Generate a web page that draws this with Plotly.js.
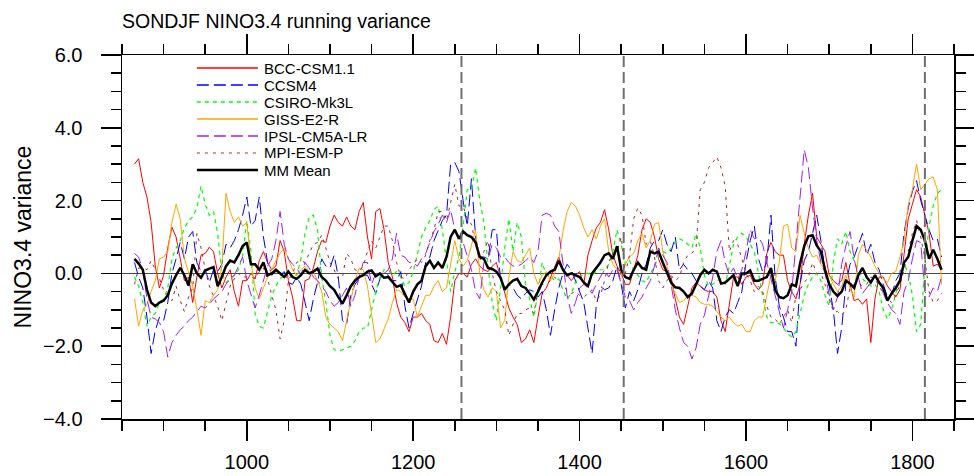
<!DOCTYPE html>
<html>
<head>
<meta charset="utf-8">
<script src="https://cdn.plot.ly/plotly-3.0.1.min.js"></script>
<style>html,body{margin:0;padding:0;background:#fff;}#chart{width:974px;height:476px;}</style>
</head>
<body>
<div id="chart"></div>
<script>
// Years of the running-variance series (865 ... 1835, every 5 years)
const startYear = 865, stepYear = 5, nYears = 195;
const years = [];
for (let i = 0; i < nYears; i++) years.push(startYear + stepYear * i);

const modelNames = ["BCC-CSM1.1", "CCSM4", "CSIRO-Mk3L", "GISS-E2-R", "IPSL-CM5A-LR", "MPI-ESM-P", "MM Mean"];

const bcc = [
 3.0, 3.15, 2.5, 2.1, 1.4, 0.2, -0.4, -0.05, 0.7, 1.27, 1.0, 0.4, -0.2, -0.1, -0.8, -0.1, 0.5, 0.55, 0.72, 0.6, 0.0, -0.4, -0.1, 0.1, -0.5, -0.9, -0.2, -0.2,
 0.0, -0.15, 0.35, 0.6, 0.3, 0.1, 0.2, 0.9, 0.6, -0.2, -0.65, -1.3, -1.3, -0.2, -0.15, 0.15, 0.6, 0.9, 0.85, 1.3, 1.6, 1.4, 1.3, 1.55, 1.3, 1.2, 1.7, 1.95,
 1.0, 0.4, 1.7, 1.78, 1.2, 0.3, -0.1, -0.8, -1.2, -1.35, -1.6, -1.2, -1.2, -1.1, -1.3, -1.4, -1.85, -1.9, -1.65, -1.95, -1.2, -0.2, 0.0, 0.0, -0.1, 0.25, 0.4, 0.2, 0.1,
 0.05, 0.2, 0.3, -0.1, -0.5, -0.95, -1.2, -1.4, -1.9, -1.8, -1.55, -1.9, -1.2, -0.55, -0.4, -0.1, 0.2, 0.45, 0.1, -0.05, -0.2, -0.05, 0.05, -0.3, 0.5, 0.9, 1.25, 1.4, 1.75,
 1.2, 0.5, 0.2, 0.0, -0.3, -0.3, 0.1, 0.5, 1.2, 1.5, 1.4, 1.0, 0.4, 0.1, 0.05, -0.1, -0.7, -1.2, -1.4, -0.9, -0.4, -0.25, -0.35, -0.45, -0.5, -0.5, -0.65, -1.3, -1.6,
 -0.9, -0.1, -0.1, -0.3, -0.1, -0.05, -0.3, -0.45, -0.3, 0.55, 0.85, 0.6, 0.5, 0.5, -0.2, -0.5, -0.7, -0.3, 0.8, 1.6, 2.2, 1.0, 0.8, 0.6, -0.05, -0.2, -0.3, -0.2,
 0.3, -0.3, -0.75, -0.7, -0.85, -0.7, -1.9, -0.7, -0.1, -0.1, -0.35, -0.5, -0.65, -0.45, 0.6, 1.5, 1.9, 2.3, 2.1, 1.6, 1.1, 0.2, 0.25, 0.1
];
const ccsm4 = [
 0.3, -0.1, -0.4, -1.2, -2.2, -1.57, -1.2, -1.3, -0.8, 0.0, 0.4, 0.85, 0.4, 1.0, 1.15, 0.3, 0.05, 0.1, -0.25, 0.1, 0.05, 0.25, 0.8, 0.7, 0.9, 1.2, 1.6, 2.1,
 1.3, 1.45, 2.1, 1.0, 0.3, -0.05, 0.05, -0.05, 0.05, -0.25, -0.3, -0.1, -0.3, -0.8, -1.3, -0.7, -0.25, 0.4, 0.2, 0.15, 0.5, -0.1, -1.3, -1.4, -0.6, -0.3, -0.15, -0.05,
 -0.05, -0.3, -0.55, -0.15, 0.0, -0.05, -0.2, -0.2, 0.05, -0.9, -1.5, -1.1, -0.7, -0.35, 0.3, 0.45, 0.9, 1.2, 1.45, 1.6, 3.0, 3.05, 2.8, 2.0, 1.3, 2.6, 1.0, 0.45, 0.45,
 0.4, 1.2, 1.2, -0.2, -0.4, -0.3, -0.4, -0.6, -0.7, -0.55, -0.45, -0.5, -0.65, -0.5, -1.0, -1.7, -1.0, -0.4, 0.0, 0.25, 0.1, -0.2, -0.45, -0.8, -1.5, -2.2, -0.9, -0.35, -0.45,
 -0.4, -0.2, 0.2, -0.3, -0.95, -0.5, -0.75, -0.45, 0.0, 0.25, 0.7, 0.9, 0.9, 1.2, 0.8, 0.6, 1.0, 0.1, 0.25, 0.1, 0.0, -0.2, -0.35, -0.45, -0.2, -0.4, -1.3, -1.6, -1.2,
 -1.0, -1.1, -0.8, -0.5, 0.3, 0.9, 1.3, 0.4, 0.05, 0.3, 1.6, -0.1, -0.9, -1.2, -1.6, -1.6, -2.0, -0.3, 0.35, 0.6, 1.1, 1.6, 0.9, 0.1, -0.35, -1.0, -2.2, -1.5,
 -0.3, 0.25, 0.45, 0.8, 1.1, 0.5, 0.8, 0.3, 0.1, -0.3, -0.65, -0.6, -0.2, 0.0, 1.1, 1.8, 2.25, 2.55, 2.0, 1.6, 1.2, 0.9, 0.95, 0.45
];
const csiro = [
 -0.1, -0.35, -0.8, -1.45, -1.2, -1.1, -0.8, -0.7, -0.4, 0.4, 0.7, 0.9, 1.25, 1.45, 1.55, 1.8, 2.4, 1.9, 1.6, 1.7, 1.1, 0.0, -0.25, -0.15, -0.05, 0.1, 0.5, 1.45,
 0.6, -1.1, -1.45, -1.5, -1.05, -0.6, -0.35, -0.15, -0.05, 0.1, -0.1, -0.05, 0.4, 1.1, 1.55, 1.6, 1.2, -0.1, -0.8, -1.7, -2.1, -2.12, -2.1, -2.05, -2.0, -1.85, -1.6, -1.5,
 -1.5, -1.0, -0.5, -0.1, 0.1, 0.1, -0.05, 0.05, -0.1, -0.35, -0.25, 0.05, 0.5, 1.0, 1.25, 1.45, 1.75, 1.85, 1.2, 0.3, -0.5, 0.05, 0.45, 1.3, 2.3, 2.3, 2.9, 2.0, 1.4,
 0.2, -0.8, -1.3, -0.4, 0.7, 1.5, 0.6, 1.4, 1.0, -0.3, -0.7, -1.2, -0.5, 0.3, -0.05, -0.05, -0.2, -0.15, -0.45, -0.7, -0.55, -0.25, -0.1, 0.0, 0.0, -0.05, 0.05, 0.1, 0.1,
 0.25, 0.6, 1.2, 0.8, 0.25, 0.35, 0.1, -0.05, -0.2, -0.25, 0.0, 0.2, 0.45, 0.6, 0.55, 0.7, 0.85, 0.95, 0.9, 0.8, 0.7, 1.1, 0.7, -0.05, -0.35, -0.3, -0.2, -0.15, -0.3,
 0.2, 0.8, 1.0, 1.1, 1.0, 0.8, 0.6, 0.0, -0.6, -1.2, -1.35, -1.35, -1.38, -1.5, -1.65, -1.75, -1.6, -1.1, -0.6, -0.3, -0.1, 0.0, -0.2, -0.6, -0.9, 0.3, 0.95, 0.8,
 1.15, 0.6, 0.35, 0.05, -0.15, -0.25, -0.35, -0.3, -0.5, -1.0, -1.25, -1.0, -0.55, -0.1, 0.25, 0.0, -0.6, -1.6, -1.4, 0.2, 1.3, 1.85, 2.2, 2.3
];
const giss = [
 -0.7, -1.45, -1.0, -0.85, -0.5, -0.2, 0.4, 0.45, 0.6, 1.4, 1.9, 1.5, 0.4, 0.0, -0.35, -1.0, -1.7, -0.75, -0.8, -0.6, -0.45, 0.2, 2.2, 1.7, 1.4, 1.55, 1.3, 1.4,
 0.3, -0.4, -0.7, -0.4, -0.1, 0.1, 0.35, 0.55, 0.7, 0.4, 0.1, -0.05, 0.1, 0.2, 0.05, 0.05, -0.2, -0.5, -1.2, -1.4, -1.5, -1.6, -1.85, -1.3, -0.75, -0.2, 0.15, 0.1,
 -0.35, -1.1, -1.9, -1.8, -1.5, -1.25, -0.8, -0.45, -0.5, -0.65, -0.7, -0.7, -1.2, -0.9, -0.6, -0.6, -0.35, -0.2, -0.5, -0.4, 0.2, 0.9, 0.4, 0.2, 0.35, 0.8, 1.2, 0.0, -0.45,
 -0.65, -0.4, -0.5, -1.5, -1.3, -0.1, 0.6, 0.35, 0.3, 0.5, 0.7, 0.0, -0.3, -0.05, 0.05, -0.2, 0.0, 0.4, 1.15, 1.7, 1.95, 1.85, 1.6, 1.25, 1.0, 1.2, 0.95, 1.3, 1.5,
 0.6, 0.25, 0.1, -0.05, 0.25, 0.45, 0.55, 0.9, 1.1, 0.7, 0.9, 1.35, 1.4, 0.6, 0.2, -0.3, -0.55, -0.8, -0.75, -0.6, -0.6, -0.65, -0.8, -0.85, -0.85, -0.9, -1.05, -1.2, -1.3,
 -1.2, -1.35, -1.45, -1.4, -1.6, -1.6, -1.3, -1.2, -1.2, -0.6, -0.05, -0.2, 0.3, 1.3, 1.35, 0.7, 0.6, 1.6, 1.1, 0.7, 0.45, 0.5, 0.25, 0.1, -0.05, -0.3, -0.5, -0.35,
 -0.05, -0.4, -0.65, 0.5, 0.8, 0.65, 0.45, 0.2, 0.0, -0.15, -0.25, 0.0, 0.05, 0.45, 0.9, 1.9, 2.3, 3.0, 2.3, 2.45, 2.6, 2.65, 2.3, -0.3
];
const ipsl = [
 0.55, 0.45, 0.1, -0.7, -1.2, -1.25, -1.35, -1.6, -2.3, -1.9, -1.7, -1.55, -1.45, -1.3, -1.2, -1.05, -0.9, -0.95, -0.85, -0.7, -0.6, -0.5, -0.3, -0.15, -0.05, 0.2, 0.45, -0.2,
 -0.6, -0.95, -0.6, -0.2, 0.2, 0.4, 0.9, 1.7, 0.8, 0.4, 0.25, 0.15, -0.05, 0.3, 0.15, -0.1, -0.2, -0.35, -0.5, -0.75, -0.9, -0.8, -0.6, -0.4, -0.9, -0.6, -0.1, 0.3,
 0.3, -0.3, 0.0, 0.0, 0.0, 0.1, 0.4, 1.1, 0.5, 0.45, 0.3, 0.3, 0.2, 0.4, 0.55, 0.85, 1.15, 1.35, 1.6, 1.4, 1.75, 1.2, 1.0, 0.85, 0.5, 0.1, -0.5, -0.7, 0.3,
 0.4, 0.8, 0.7, 0.45, 0.45, 0.3, 0.2, 0.2, 0.25, 0.35, 0.45, 0.3, 0.6, 1.6, 1.65, 1.6, 1.3, 1.15, 0.3, -0.6, -1.1, -0.8, -0.4, -0.3, -0.4, -0.55, -0.3, -0.1, 0.1,
 -0.1, 0.1, 0.1, -0.3, -0.65, -0.75, -1.0, -0.8, -0.65, -0.4, -0.2, 0.2, 0.7, 0.5, 0.3, -0.3, -1.0, -1.5, -1.9, -2.0, -2.35, -2.05, -1.4, -1.15, -0.6, -0.1, 0.6, 0.9, 0.3,
 -0.05, 0.15, -0.15, 0.1, 0.6, 1.2, 0.95, 1.0, 0.8, 0.3, -0.15, -0.6, -1.1, -1.5, -1.0, -0.5, 0.8, 2.0, 3.4, 2.9, 1.8, 0.9, 0.3, 0.0, -0.6, -1.0, -0.65, 0.25,
 0.75, 1.15, 0.4, -0.1, -0.55, -0.4, -0.25, -0.1, -0.2, -0.55, -0.8, -1.0, -1.1, -1.4, -0.5, -0.2, 0.4, 0.9, 0.85, -0.5, -0.65, -0.4, -0.5, -0.1
];
const mpi = [
 -0.3, 0.15, 0.15, 0.1, 0.35, 0.1, -0.15, -0.45, -0.6, -0.75, -0.35, -0.75, -1.05, -0.65, -0.4, 1.1, 0.7, 0.1, -0.35, -0.65, -0.9, -1.3, -0.8, -0.35, -0.15, 0.0, -0.1, -0.1,
 -0.1, -0.15, 0.05, 0.15, -0.15, -0.6, -1.0, -1.8, -1.3, -0.2, 0.0, 0.3, 0.35, 0.3, 0.55, 0.8, 0.85, 1.05, 0.7, 0.3, 0.1, -0.15, -0.1, 0.55, 0.4, 0.1, 0.05, 0.2,
 0.6, 0.9, 0.7, 1.0, 1.3, 1.3, 0.9, 0.3, -0.1, -0.15, 0.1, 0.25, 0.4, 0.3, 0.5, 0.9, 1.2, 1.7, 1.7, 1.45, 2.0, 2.45, 1.85, 1.85, 1.5, 1.35, 0.8, 0.35, 0.6,
 0.9, 0.0, -0.5, -0.75, -1.0, -1.7, -1.4, -1.1, -1.1, -1.0, -0.95, -1.1, -0.45, -0.3, -0.3, -0.2, -0.1, -0.25, -0.35, -0.45, -0.55, -0.5, -0.6, -0.65, -0.55, -0.45, -0.75, -0.6, -0.2,
 0.3, 0.55, 0.6, 1.0, 0.0, 0.5, 1.5, 1.8, 1.6, 0.8, 0.9, 0.45, -0.2, -0.4, -0.2, -0.05, -0.2, -0.1, 0.3, 0.5, 0.55, 0.7, 2.3, 2.5, 2.9, 3.05, 3.2, 2.9, 2.4,
 0.6, 0.9, 0.8, 0.4, 0.0, -0.2, -0.5, -0.35, -0.5, -0.9, -1.2, -1.25, -1.4, -1.2, -1.0, -1.35, -0.6, -0.45, -0.25, -0.1, 0.3, 0.0, 0.0, -0.3, -0.65, -1.05, -1.05, -1.15,
 -1.0, -0.4, -0.3, -0.25, -0.35, -0.3, -0.1, -0.15, -0.35, -0.55, -0.7, -0.8, -0.6, -0.3, 0.1, 0.6, 1.1, 1.45, 1.0, 0.4, -0.5, -0.8, -0.75, -0.55
];
const mmMean = [
 0.4, 0.27, 0.1, -0.45, -0.8, -0.9, -0.8, -0.75, -0.6, -0.28, -0.05, 0.15, -0.05, -0.33, 0.25, 0.0, -0.12, 0.08, 0.13, 0.17, -0.35, -0.1, 0.2, 0.35, 0.3, 0.5, 0.75, 0.85,
 0.25, 0.25, 0.1, 0.3, -0.05, 0.0, 0.1, 0.0, -0.1, 0.05, -0.1, -0.15, -0.05, 0.1, 0.0, 0.05, 0.13, -0.1, -0.2, -0.35, -0.45, -0.65, -0.83, -0.6, -0.35, -0.2, -0.1, -0.05,
 0.05, 0.08, -0.08, 0.0, -0.12, -0.1, -0.25, -0.37, -0.33, -0.55, -0.8, -0.5, -0.3, -0.2, 0.2, 0.35, 0.15, 0.3, 0.15, 0.45, 1.0, 1.2, 0.95, 1.15, 1.05, 1.0, 0.85, 0.45, 0.4,
 0.15, 0.12, 0.05, -0.12, -0.45, -0.3, -0.2, -0.15, -0.35, -0.4, -0.55, -0.72, -0.5, -0.25, -0.05, 0.05, 0.1, 0.35, 0.1, -0.05, 0.0, -0.05, -0.1, -0.25, -0.35, 0.0, 0.15, 0.3, 0.5,
 0.55, 0.4, 0.75, 0.1, -0.1, -0.15, 0.1, 0.3, 0.15, 0.1, 0.6, 0.55, 0.6, 0.3, 0.0, -0.25, -0.38, -0.4, -0.5, -0.65, -0.55, -0.3, -0.05, 0.1, 0.0, 0.1, 0.05, -0.28, -0.25,
 -0.15, -0.05, -0.35, 0.0, 0.0, 0.08, -0.2, -0.2, -0.15, -0.1, 0.15, -0.45, -0.65, -0.68, -0.6, -0.3, -0.35, 0.27, 0.75, 1.02, 1.05, 0.77, 0.6, 0.1, -0.3, -0.5, -0.62, -0.5,
 -0.2, -0.28, -0.4, -0.05, 0.15, -0.1, -0.25, -0.05, -0.25, -0.4, -0.75, -0.55, -0.4, -0.2, 0.3, 0.45, 0.9, 1.3, 1.2, 0.9, 0.4, 0.65, 0.4, 0.1
];

// Volcanic eruption years marked with dashed lines
const eruptionYears = [1258, 1453, 1815];

const seriesValues = [bcc, ccsm4, csiro, giss, ipsl, mpi, mmMean];
const seriesColors = ["#ff0000", "#0000ff", "#00ff00", "#ffa500", "#a020f0", "#a52a2a", "#000000"];
const seriesDash = ["solid", "12px,5px", "4px,4px", "solid", "12px,5px", "3px,5px", "solid"];
const seriesWidth = [1, 1, 1.2, 1, 1, 1, 2.5];
const legendWidth = [1.5, 1.5, 1.5, 1.5, 1.5, 1.2, 2.5];

const traces = seriesValues.map((vals, i) => ({
  type: "scatter", mode: "lines", x: years, y: vals, name: modelNames[i],
  line: {color: seriesColors[i], width: seriesWidth[i], dash: seriesDash[i]},
  showlegend: false, hoverinfo: "skip"
}));

// Hand-drawn legend (NCL style) in paper coordinates
const legX0 = 0.090, legX1 = 0.1635, legTextX = 0.1695;
const legTopPx = 68, legStepPx = 17, plotTopPx = 55, plotHpx = 364;
const shapes = [];
const annotations = [];
modelNames.forEach((nm, i) => {
  const yp = 1 - (legTopPx + legStepPx * i - plotTopPx) / plotHpx;
  shapes.push({type: "line", xref: "paper", yref: "paper", x0: legX0, x1: legX1, y0: yp, y1: yp,
    line: {color: seriesColors[i], width: legendWidth[i], dash: seriesDash[i]}});
  annotations.push({xref: "paper", yref: "paper", x: legTextX, y: yp, xanchor: "left", yanchor: "middle",
    text: nm, showarrow: false, borderpad: 0, font: {size: 15, color: "#000"}});
});
eruptionYears.forEach(yr => {
  shapes.push({type: "line", xref: "x", yref: "paper", x0: yr, x1: yr, y0: 0, y1: 1, layer: "above",
    line: {color: "#707070", width: 2, dash: "11px,5px"}});
});

const axisCommon = {
  showline: true, linecolor: "#000", linewidth: 1.5, mirror: "allticks",
  ticks: "outside", ticklen: 20, tickwidth: 1.5, tickcolor: "#000",
  showgrid: false, fixedrange: true
};

const layout = {
  width: 974, height: 476,
  margin: {l: 122, r: 20, t: 55, b: 57},
  paper_bgcolor: "#fff", plot_bgcolor: "#fff",
  font: {family: "Liberation Sans, Arial, sans-serif", color: "#000"},
  title: {text: "SONDJF NINO3.4 running variance", font: {size: 19.5, color: "#000"},
    xref: "container", x: 0.1253, xanchor: "left", yref: "container", y: 0.956, yanchor: "middle"},
  xaxis: Object.assign({}, axisCommon, {
    range: [850, 1850], tick0: 0, dtick: 200, zeroline: false,
    tickfont: {size: 20}, ticklabelstandoff: 4,
    minor: {dtick: 50, tick0: 0, ticks: "outside", ticklen: 10, tickwidth: 1.5, tickcolor: "#000", showgrid: false}
  }),
  yaxis: Object.assign({}, axisCommon, {
    range: [-4, 6], tick0: 0, dtick: 2, tickformat: ".1f",
    zeroline: true, zerolinecolor: "#4a4a4a", zerolinewidth: 1.5,
    tickfont: {size: 20}, ticklabelstandoff: 14,
    title: {text: "NINO3.4 variance", font: {size: 23, color: "#000"}, standoff: 5},
    minor: {dtick: 0.5, tick0: 0, ticks: "outside", ticklen: 10, tickwidth: 1.5, tickcolor: "#000", showgrid: false}
  }),
  shapes: shapes,
  annotations: annotations,
  showlegend: false
};

Plotly.newPlot("chart", traces, layout, {staticPlot: true, displayModeBar: false});
</script>
</body>
</html>
